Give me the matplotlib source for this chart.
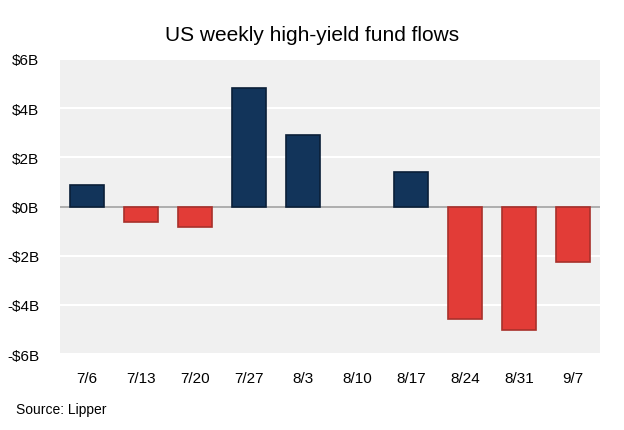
import matplotlib.pyplot as plt
import numpy as np

# === Datos ===
semanas = ['7/6', '7/13', '7/20', '7/27', '8/3', '8/10', '8/17', '8/24', '8/31', '9/7']
flujos = [0.88, -0.63, -0.85, 4.80, 2.90, 0.0, 1.42, -4.56, -5.03, -2.25]  # miles de millones USD
y_ticks = [-6, -4, -2, 0, 2, 4, 6]
y_labels = ['-$6B', '-$4B', '-$2B', '$0B', '$2B', '$4B', '$6B']

azul = '#12345a'
rojo = '#e23c37'

plt.rcParams['font.family'] = ['Liberation Sans', 'DejaVu Sans']

fig = plt.figure(figsize=(6.24, 4.31), dpi=100)
ax = fig.add_axes([0.0962, 0.1763, 0.8653, 0.6845])

x = np.arange(len(semanas))
colores = [azul if v >= 0 else rojo for v in flujos]
bordes = [('#0a1f38' if v > 0 else '#a8302b') if v != 0 else 'none' for v in flujos]
ax.bar(x, flujos, width=0.62, color=colores, edgecolor=bordes, linewidth=1.2, zorder=3)

ax.set_facecolor('#f0f0f0')
ax.set_xlim(-0.5, len(semanas) - 0.5)
ax.set_ylim(-6, 6)
ax.set_yticks(y_ticks)
ax.set_yticklabels(y_labels, fontsize=11)
ax.set_xticks(x)
ax.set_xticklabels(semanas, fontsize=11)
ax.tick_params(length=0)
ax.tick_params(axis='y', pad=15)
ax.tick_params(axis='x', pad=12)
for s in ax.spines.values():
    s.set_visible(False)
ax.grid(axis='y', color='white', linewidth=1.5, zorder=1)
ax.axhline(0, color='#a0a0a0', linewidth=1.2, zorder=2)

fig.text(0.5, 0.918, 'US weekly high-yield fund flows', ha='center', va='center', fontsize=15)
fig.text(0.026, 0.049, 'Source: Lipper', ha='left', va='center', fontsize=10)

fig.savefig('out.png', dpi=100)
